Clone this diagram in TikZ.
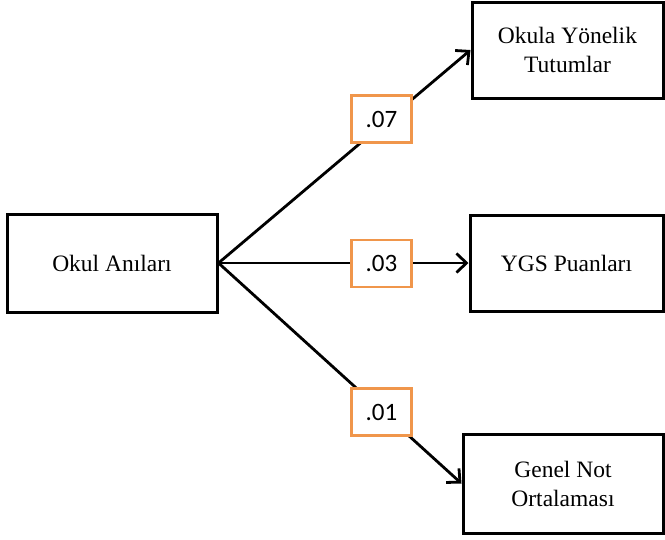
\documentclass[tikz,border=0pt]{standalone}
\usepackage{fontspec}
\setmainfont{Liberation Serif}
\newfontfamily\labfont{Carlito}
\usetikzlibrary{arrows.meta}
\definecolor{labor}{RGB}{240,150,75}
\begin{document}
\begin{tikzpicture}[x=1pt,y=-1pt,
  varbox/.style={draw=black,line width=3pt,fill=white,align=center,
    font=\fontsize{23.5}{29}\selectfont,inner sep=0pt},
  coef/.style={draw=labor,line width=2.4pt,fill=white,minimum width=60pt,
    minimum height=47pt,inner sep=0pt,font=\labfont\fontsize{25}{28}\selectfont},
  conn/.style={line width=2.8pt,-{Straight Barb[length=10pt,width=19pt,line width=2.8pt]}}]
\useasboundingbox (0,0) rectangle (665,539);
\node[varbox,minimum width=210pt,minimum height=98pt] (src) at (112,263) {Okul Anıları};
\node[varbox,minimum width=191pt,minimum height=96pt] (top) at (567.5,50) {Okula Yönelik\\Tutumlar};
\node[varbox,minimum width=193pt,minimum height=96pt] (mid) at (566.5,263) {YGS Puanları};
\node[varbox,minimum width=200pt,minimum height=99pt] (bot) at (563,483.5) {Genel Not\\Ortalaması};
\draw[conn] (src.east) -- (top.west);
\draw[conn] (src.east) -- (mid.west);
\draw[conn] (src.east) -- (bot.west);
\node[coef] (c1) at (381.5,119) {.07};
\node[coef] (c2) at (381.5,263.5) {.03};
\node[coef] (c3) at (381.5,412) {.01};
\end{tikzpicture}
\end{document}
